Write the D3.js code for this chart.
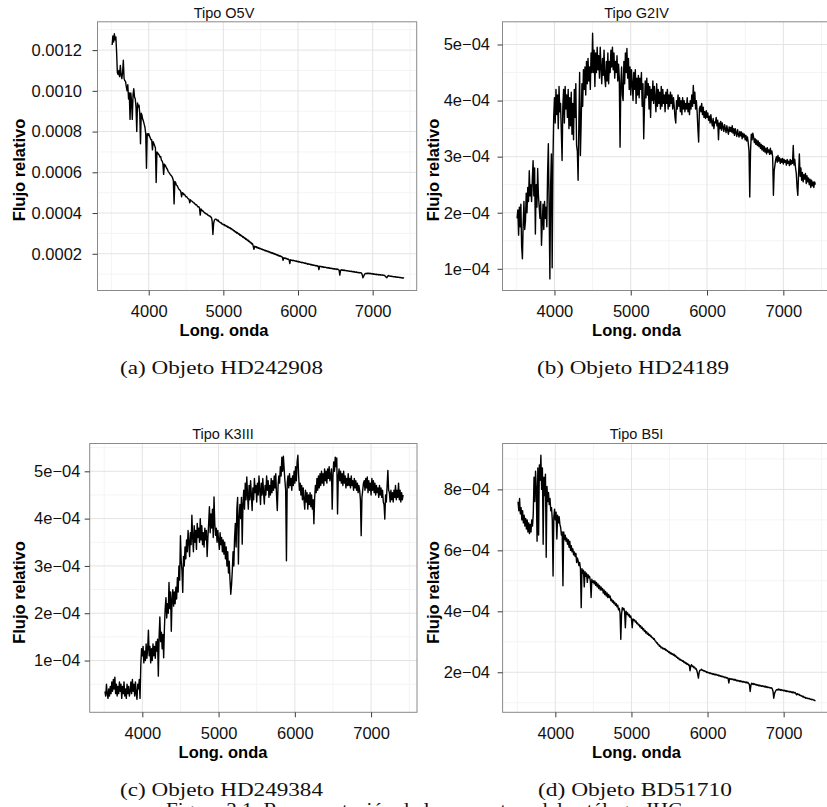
<!DOCTYPE html>
<html>
<head>
<meta charset="utf-8">
<script src="https://cdn.jsdelivr.net/npm/d3@7"></script>
<style>
  html, body { margin: 0; padding: 0; background: #ffffff; }
  svg { display: block; }
</style>
</head>
<body>
<svg id="fig" width="827" height="807"></svg>
<script>
// ---------------------------------------------------------------------------
// Spectra sampled on a regular wavelength grid (Angstrom)
// ---------------------------------------------------------------------------
const waveStart = 3510;
const waveStep = 10;
const waveEnd = 7420;

// Relative flux of each object, in units of 1e-4
const fluxO5V = [
  12.25, 12.7, 12.4, 12.8, 12.5, 12.65, 11.9, 10.9, 10.8, 11.0, 10.7, 11.25, 10.8, 10.6, 10.9, 11.5, 10.6, 10.5, 10.45, 10.2,   // 3510-3700
  10.0, 10.3, 9.6, 9.9, 8.6, 9.9, 9.5, 8.6, 9.8, 10.1, 9.7, 9.6, 9.2, 8.0, 9.4, 9.2, 9.3, 8.9, 7.4, 8.9,                       // 3710-3900
  8.8, 8.6, 8.5, 8.35, 8.2, 7.9, 6.2, 7.9, 7.8, 7.9, 7.8, 7.7, 7.6, 7.6, 7.1, 7.5, 7.4, 7.3, 7.2, 5.5,                         // 3910-4100
  7.0, 6.95, 6.9, 6.85, 6.75, 6.78, 6.6, 6.55, 6.45, 5.9, 6.4, 6.35, 6.28, 6.2, 6.15, 6.05, 6.0, 5.95, 5.88, 5.85,             // 4110-4300
  5.8, 5.72, 5.6, 4.45, 5.55, 5.5, 5.38, 5.35, 5.28, 5.2, 5.15, 5.12, 5.05, 4.8, 5.0, 4.98, 4.9, 4.92, 4.85, 4.8,              // 4310-4500
  4.8, 4.74, 4.7, 4.68, 4.5, 4.65, 4.6, 4.58, 4.55, 4.5, 4.5, 4.44, 4.4, 4.41, 4.35, 4.3, 4.31, 4.25, 3.9, 4.2,                // 4510-4700
  4.15, 4.1, 4.1, 4.04, 4.0, 4.0, 3.95, 3.96, 3.9, 3.9, 3.85, 3.86, 3.8, 3.8, 3.6, 2.95, 3.5, 3.65, 3.7, 3.7,                  // 4710-4900
  3.68, 3.62, 3.66, 3.58, 3.57, 3.52, 3.53, 3.46, 3.47, 3.42, 3.44, 3.38, 3.4, 3.34, 3.36, 3.3, 3.32, 3.26, 3.28, 3.22,        // 4910-5100
  3.24, 3.17, 3.18, 3.12, 3.13, 3.06, 3.08, 3.01, 3.04, 2.97, 2.99, 2.91, 2.94, 2.87, 2.88, 2.81, 2.84, 2.76, 2.78, 2.71,      // 5110-5300
  2.73, 2.65, 2.68, 2.6, 2.62, 2.54, 2.56, 2.48, 2.5, 2.38, 2.22, 2.37, 2.33, 2.35, 2.29, 2.32, 2.27, 2.29, 2.24, 2.26,        // 5310-5500
  2.22, 2.23, 2.19, 2.2, 2.16, 2.18, 2.13, 2.15, 2.11, 2.13, 2.08, 2.1, 2.05, 2.07, 2.02, 2.05, 2.0, 2.02, 1.97, 1.99,         // 5510-5700
  1.94, 1.96, 1.91, 1.93, 1.88, 1.9, 1.86, 1.87, 1.83, 1.68, 1.81, 1.78, 1.79, 1.75, 1.77, 1.73, 1.74, 1.71, 1.52, 1.71,       // 5710-5900
  1.68, 1.69, 1.66, 1.68, 1.65, 1.66, 1.63, 1.65, 1.61, 1.63, 1.59, 1.61, 1.58, 1.59, 1.56, 1.58, 1.55, 1.56, 1.53, 1.55,     // 5910-6100
  1.51, 1.53, 1.49, 1.51, 1.48, 1.49, 1.46, 1.48, 1.44, 1.46, 1.43, 1.44, 1.41, 1.43, 1.4, 1.41, 1.39, 1.22, 1.39, 1.37,      // 6110-6300
  1.38, 1.35, 1.37, 1.34, 1.35, 1.33, 1.34, 1.31, 1.33, 1.3, 1.32, 1.29, 1.3, 1.28, 1.29, 1.26, 1.28, 1.25, 1.27, 1.24,       // 6310-6500
  1.26, 1.23, 1.25, 1.22, 1.2, 0.95, 1.18, 1.22, 1.19, 1.21, 1.18, 1.2, 1.17, 1.18, 1.16, 1.17, 1.15, 1.16, 1.14, 1.15,       // 6510-6700
  1.13, 1.14, 1.12, 1.13, 1.1, 1.12, 1.09, 1.11, 1.08, 1.09, 1.07, 1.08, 1.06, 1.07, 1.05, 0.98, 0.82, 0.9, 0.98, 1.02,       // 6710-6900
  1.04, 1.02, 1.05, 1.03, 1.05, 1.02, 1.04, 1.01, 1.03, 1.0, 1.02, 0.99, 1.01, 0.98, 1.0, 0.97, 0.99, 0.96, 0.98, 0.96,       // 6910-7100
  0.97, 0.95, 0.96, 0.94, 0.95, 0.93, 0.9, 0.85, 0.82, 0.9, 0.93, 0.9, 0.91, 0.89, 0.9, 0.88, 0.89, 0.87, 0.88, 0.86,         // 7110-7300
  0.87, 0.85, 0.86, 0.84, 0.85, 0.83, 0.84, 0.82, 0.83, 0.81, 0.82, 0.8                                                        // 7310-7420
];

const fluxG2IV = [
  1.9, 2.05, 1.6, 2.1, 1.75, 2.15, 1.4, 1.18, 1.8, 2.2, 1.7, 1.85, 2.35, 2.0, 2.45, 2.2, 2.75, 2.3, 2.5, 2.2,                  // 3510-3700
  2.6, 2.93, 2.3, 2.8, 1.62, 2.5, 2.1, 2.79, 2.3, 2.1, 1.9, 2.2, 1.42, 1.8, 2.15, 1.7, 2.2, 1.9, 2.1, 1.75,                    // 3710-3900
  2.7, 3.23, 2.1, 0.82, 2.5, 3.05, 1.02, 2.9, 3.7, 4.05, 3.6, 4.2, 3.75, 4.1, 3.5, 4.25, 3.8, 3.95, 3.45, 2.93,                // 3910-4100
  3.9, 4.2, 3.6, 4.25, 3.85, 4.1, 3.7, 4.2, 3.5, 4.05, 3.55, 4.15, 3.4, 3.95, 3.3, 4.2, 3.7, 4.3, 3.2, 3.1,                    // 4110-4300
  2.58, 3.6, 4.5, 3.02, 3.6, 4.3, 3.9, 4.55, 4.2, 4.6, 4.1, 4.7, 4.3, 4.75, 4.35, 4.6, 4.2, 4.85, 4.5, 5.2,                    // 4310-4500
  4.5, 4.9, 4.25, 4.85, 4.5, 4.95, 4.55, 4.8, 4.4, 4.95, 4.6, 4.3, 4.75, 4.45, 4.9, 4.4, 4.25, 4.7, 4.35, 4.85,                // 4510-4700
  4.3, 4.7, 4.5, 4.9, 4.6, 4.95, 4.55, 4.85, 4.4, 4.7, 4.5, 4.8, 4.35, 4.65, 4.4, 3.17, 4.3, 4.6, 4.1, 4.0,                    // 4710-4900
  4.7, 4.3, 4.85, 4.5, 4.93, 4.4, 4.75, 4.2, 4.6, 4.1, 4.55, 4.3, 4.0, 4.5, 4.2, 4.55, 3.95, 4.4, 4.1, 4.45,                   // 4910-5100
  4.05, 4.4, 4.2, 4.5, 3.9, 4.3, 3.32, 3.9, 4.35, 4.05, 4.4, 4.1, 4.3, 3.85, 4.25, 3.7, 4.2, 4.0, 4.35, 3.95,                  // 5110-5300
  4.25, 4.05, 3.8, 4.3, 3.9, 4.2, 3.95, 4.15, 3.85, 4.25, 3.9, 4.2, 3.95, 4.1, 3.8, 4.15, 3.95, 4.2, 3.85, 4.1,                // 5310-5500
  3.9, 4.15, 3.95, 4.1, 3.85, 4.05, 3.9, 3.7, 3.6, 4.0, 3.85, 4.1, 3.9, 4.05, 3.8, 4.0, 3.75, 4.05, 3.85, 4.0,                 // 5510-5700
  3.8, 3.95, 3.85, 4.05, 3.8, 3.95, 3.75, 4.0, 3.85, 4.1, 3.9, 4.27, 3.95, 4.15, 3.85, 4.0, 3.8, 3.5, 3.26, 3.85,              // 5710-5900
  3.9, 3.8, 3.95, 3.75, 3.88, 3.7, 3.8, 3.68, 3.82, 3.7, 3.78, 3.65, 3.72, 3.6, 3.75, 3.62, 3.55, 3.68, 3.5, 3.62,             // 5910-6100
  3.6, 3.7, 3.55, 3.65, 3.3, 3.6, 3.5, 3.63, 3.47, 3.6, 3.52, 3.45, 3.57, 3.5, 3.43, 3.55, 3.47, 3.4, 3.53, 3.45,              // 6110-6300
  3.52, 3.44, 3.55, 3.42, 3.5, 3.38, 3.5, 3.43, 3.36, 3.48, 3.4, 3.35, 3.45, 3.37, 3.44, 3.32, 3.42, 3.35, 3.4, 3.3,          // 6310-6500
  3.38, 3.28, 3.35, 3.25, 3.1, 2.28, 3.1, 3.4, 3.3, 3.42, 3.35, 3.25, 3.32, 3.22, 3.3, 3.2, 3.28, 3.18, 3.25, 3.15,            // 6510-6700
  3.22, 3.12, 3.2, 3.1, 3.18, 3.08, 3.15, 3.05, 3.16, 3.08, 3.12, 3.04, 3.15, 3.05, 3.1, 3.0, 2.31, 2.75, 2.85, 2.95,          // 6710-6900
  3.0, 2.9, 3.02, 2.92, 2.98, 2.88, 2.96, 2.9, 2.97, 2.87, 2.95, 2.9, 2.93, 2.85, 2.95, 2.88, 2.92, 2.84, 2.95, 2.86,          // 6910-7100
  2.93, 2.88, 3.2, 2.85, 2.95, 2.8, 2.7, 2.45, 2.31, 2.7, 3.05, 2.65, 2.8, 2.58, 2.72, 2.55, 2.68, 2.6, 2.7, 2.52,             // 7110-7300
  2.66, 2.55, 2.62, 2.5, 2.6, 2.45, 2.58, 2.48, 2.55, 2.45, 2.55, 2.5                                                          // 7310-7420
];

const fluxK3III = [
  0.35, 0.25, 0.5, 0.3, 0.2, 0.4, 0.25, 0.45, 0.3, 0.55, 0.35, 0.6, 0.4, 0.65, 0.3, 0.5, 0.25, 0.45, 0.3, 0.55,                // 3510-3700
  0.35, 0.5, 0.2, 0.45, 0.3, 0.55, 0.25, 0.4, 0.2, 0.5, 0.3, 0.45, 0.25, 0.35, 0.55, 0.3, 0.6, 0.35, 0.5, 0.25,                // 3710-3900
  0.55, 0.3, 0.18, 0.5, 0.4, 0.6, 0.2, 0.9, 1.25, 1.1, 1.3, 0.95, 1.2, 1.0, 1.35, 1.05, 1.25, 1.64, 1.1, 1.3,                  // 3910-4100
  0.95, 1.25, 1.0, 1.35, 1.1, 1.3, 1.05, 1.4, 1.2, 1.45, 0.67, 1.5, 1.92, 1.4, 1.6, 1.25, 1.55, 1.06, 1.7, 2.1,                // 4110-4300
  2.33, 1.9, 2.2, 2.0, 2.65, 2.1, 2.45, 1.62, 2.3, 2.5, 2.15, 2.45, 2.2, 2.55, 2.3, 2.75, 2.45, 3.0, 2.7, 3.64,                // 4310-4500
  3.1, 2.9, 2.44, 3.2, 3.0, 3.4, 3.15, 3.55, 3.3, 3.75, 3.5, 3.2, 3.7, 3.45, 4.07, 3.6, 3.3, 3.85, 3.5, 3.75,                  // 4510-4700
  3.35, 3.9, 3.6, 3.8, 3.5, 4.0, 3.55, 3.85, 3.45, 3.7, 3.4, 3.8, 3.55, 3.75, 3.2, 3.6, 3.9, 4.25, 3.7, 4.1,                   // 4710-4900
  3.8, 4.2, 3.6, 4.46, 3.9, 3.65, 3.8, 3.5, 3.75, 3.55, 3.35, 3.7, 3.45, 3.6, 3.3, 3.55, 3.25, 3.5, 3.15, 3.4,                 // 4910-5100
  3.0, 3.3, 2.85, 3.1, 2.7, 2.4, 2.6, 2.9, 3.3, 3.0, 3.6, 3.9, 3.4, 4.2, 4.45, 3.04, 4.0, 4.3, 4.0, 4.45,                      // 5110-5300
  3.46, 4.3, 4.6, 4.2, 4.75, 4.4, 4.88, 4.5, 4.2, 4.7, 4.4, 4.8, 4.5, 4.17, 4.65, 4.4, 4.85, 4.55, 4.7, 4.35,                  // 5310-5500
  4.75, 4.5, 4.9, 4.6, 4.3, 4.75, 4.5, 4.85, 4.55, 4.31, 4.7, 4.5, 4.9, 4.6, 4.8, 4.45, 4.7, 4.5, 4.85, 4.55,                  // 5510-5700
  4.8, 4.6, 4.9, 4.65, 4.95, 4.5, 4.17, 4.7, 4.9, 4.75, 5.1, 4.9, 5.3, 5.0, 5.32, 5.05, 4.8, 4.6, 3.11, 4.75,                  // 5710-5900
  4.9, 4.65, 4.95, 4.7, 4.85, 4.6, 4.9, 4.7, 5.0, 4.75, 5.1, 4.8, 5.2, 5.34, 4.9, 4.6, 4.75, 4.5, 4.7, 4.4,                    // 5910-6100
  4.65, 4.4, 4.2, 4.6, 4.35, 4.55, 4.2, 4.5, 4.3, 4.55, 4.25, 4.5, 4.2, 4.4, 3.89, 4.45, 4.7, 4.55, 4.85, 4.6,                 // 6110-6300
  4.9, 4.65, 4.95, 4.7, 5.0, 4.75, 4.95, 4.7, 5.05, 4.8, 5.0, 4.75, 5.05, 4.85, 5.1, 4.8, 4.9, 5.05, 4.2, 4.9,                 // 6310-6500
  5.2, 5.0, 5.3, 5.1, 5.28, 4.1, 4.9, 5.05, 4.8, 5.0, 4.75, 4.95, 4.7, 5.0, 4.75, 4.9, 4.65, 4.85, 4.7, 4.95,                  // 6510-6700
  4.7, 4.85, 4.65, 4.9, 4.7, 4.8, 4.6, 4.85, 4.65, 4.8, 4.6, 4.75, 4.55, 4.7, 4.6, 4.4, 3.64, 4.45, 4.6, 4.75,                 // 6710-6900
  4.8, 4.6, 4.85, 4.65, 4.88, 4.55, 4.8, 4.6, 4.75, 4.5, 4.85, 4.6, 4.8, 4.55, 4.75, 4.5, 4.7, 4.55, 4.65, 4.45,               // 6910-7100
  4.7, 4.5, 4.65, 4.45, 4.6, 4.35, 4.3, 3.99, 4.5, 4.35, 4.7, 5.02, 4.6, 4.55, 4.35, 4.6, 4.4, 4.55, 4.35, 4.6,                // 7110-7300
  4.45, 4.7, 4.4, 4.6, 4.45, 4.75, 4.4, 4.6, 4.35, 4.55, 4.4, 4.5                                                              // 7310-7420
];

const fluxB5I = [
  7.6, 7.3, 7.7, 7.2, 7.4, 7.0, 7.3, 6.9, 7.15, 6.8, 7.05, 6.7, 7.0, 6.6, 6.9, 6.55, 6.85, 6.6, 7.0, 6.8,                      // 3510-3700
  7.2, 8.4, 7.6, 8.6, 8.0, 6.3, 8.7, 6.5, 8.8, 8.3, 9.12, 8.0, 8.7, 6.2, 8.4, 7.8, 8.5, 5.77, 8.1, 7.6,                        // 3710-3900
  7.9, 7.5, 7.7, 7.3, 7.4, 7.0, 5.16, 7.1, 7.35, 7.0, 7.25, 6.37, 7.15, 6.9, 7.1, 6.85, 6.75, 6.5, 6.6, 4.84,                  // 3910-4100
  6.6, 6.35, 6.5, 6.3, 6.4, 6.2, 6.35, 6.1, 6.3, 6.0, 6.15, 5.95, 6.05, 5.85, 5.95, 5.8, 5.9, 5.6, 5.75, 5.65,                 // 4110-4300
  5.5, 5.6, 5.4, 4.12, 5.4, 5.25, 5.35, 4.8, 5.3, 5.15, 5.25, 4.95, 5.2, 5.1, 5.15, 5.0, 4.45, 5.05, 4.95, 5.0,                // 4310-4500
  4.9, 5.0, 4.85, 4.95, 4.8, 4.9, 4.75, 4.85, 4.7, 4.8, 4.7, 4.75, 4.6, 4.7, 4.55, 4.65, 4.5, 4.6, 4.45, 4.55,                 // 4510-4700
  4.45, 4.5, 4.35, 4.4, 4.3, 4.35, 4.25, 4.3, 4.2, 4.25, 4.15, 4.2, 4.05, 4.1, 3.95, 3.08, 3.9, 4.12, 4.05, 4.1,               // 4710-4900
  4.0, 3.46, 4.0, 3.9, 3.95, 3.85, 3.9, 3.8, 3.85, 3.75, 3.46, 3.75, 3.7, 3.72, 3.65, 3.68, 3.6, 3.62, 3.55, 3.57,             // 4910-5100
  3.49, 3.53, 3.44, 3.48, 3.39, 3.43, 3.34, 3.37, 3.29, 3.33, 3.25, 3.28, 3.21, 3.24, 3.17, 3.19, 3.13, 3.14, 3.08, 3.1,       // 5110-5300
  3.03, 3.02, 2.96, 2.97, 2.9, 2.91, 2.85, 2.86, 2.8, 2.82, 2.77, 2.79, 2.75, 2.78, 2.72, 2.74, 2.69, 2.7, 2.65, 2.67,         // 5310-5500
  2.61, 2.64, 2.59, 2.61, 2.56, 2.59, 2.53, 2.55, 2.49, 2.5, 2.45, 2.47, 2.41, 2.43, 2.39, 2.4, 2.36, 2.38, 2.32, 2.34,        // 5510-5700
  2.29, 2.31, 2.26, 2.28, 2.23, 2.24, 2.05, 2.21, 2.25, 2.19, 2.2, 2.15, 2.17, 2.11, 2.12, 2.05, 1.95, 1.81, 2.0, 2.07,        // 5710-5900
  2.07, 2.1, 2.06, 2.07, 2.04, 2.05, 2.02, 2.03, 1.99, 2.01, 1.98, 1.99, 1.96, 1.98, 1.95, 1.96, 1.93, 1.95, 1.92, 1.94,       // 5910-6100
  1.91, 1.93, 1.9, 1.91, 1.88, 1.9, 1.87, 1.88, 1.85, 1.87, 1.84, 1.85, 1.82, 1.84, 1.81, 1.82, 1.8, 1.65, 1.8, 1.77,         // 6110-6300
  1.79, 1.76, 1.78, 1.75, 1.77, 1.74, 1.76, 1.72, 1.74, 1.71, 1.73, 1.7, 1.72, 1.69, 1.71, 1.68, 1.7, 1.67, 1.69, 1.66,       // 6310-6500
  1.68, 1.65, 1.67, 1.63, 1.6, 1.37, 1.58, 1.64, 1.61, 1.63, 1.6, 1.62, 1.59, 1.6, 1.57, 1.59, 1.56, 1.58, 1.55, 1.57,        // 6510-6700
  1.54, 1.56, 1.53, 1.55, 1.52, 1.54, 1.51, 1.53, 1.5, 1.51, 1.49, 1.5, 1.48, 1.49, 1.46, 1.38, 1.15, 1.3, 1.36, 1.41,        // 6710-6900
  1.43, 1.42, 1.45, 1.42, 1.44, 1.41, 1.43, 1.4, 1.42, 1.39, 1.41, 1.38, 1.4, 1.37, 1.39, 1.36, 1.38, 1.35, 1.37, 1.34,       // 6910-7100
  1.36, 1.33, 1.35, 1.32, 1.34, 1.3, 1.26, 1.3, 1.27, 1.28, 1.24, 1.25, 1.22, 1.23, 1.19, 1.21, 1.17, 1.18, 1.15, 1.16,       // 7110-7300
  1.14, 1.15, 1.13, 1.14, 1.11, 1.12, 1.1, 1.11, 1.09, 1.09, 1.07, 1.07                                                        // 7310-7420
];

// Text content
const panelTitles = ["Tipo O5V", "Tipo G2IV", "Tipo K3III", "Tipo B5I"];
const captions = ["(a) Objeto HD242908", "(b) Objeto HD24189", "(c) Objeto HD249384", "(d) Objeto BD51710"];
const xAxisTitle = "Long. onda";
const yAxisTitle = "Flujo relativo";
const figureCaption = "Figura 3.1: Representación de los espectros del catálogo JHC";

// Axis ticks (x in Angstrom, y in units of 1e-4)
const xTicks = [4000, 5000, 6000, 7000];
const xMinorTicks = [3500, 4500, 5500, 6500, 7500];
const yTicksO5V = [2, 4, 6, 8, 10, 12];
const yLabelsO5V = ["0.0002", "0.0004", "0.0006", "0.0008", "0.0010", "0.0012"];
const yMinorO5V = [1, 3, 5, 7, 9, 11, 13];
const yTicksG2IV = [1, 2, 3, 4, 5];
const yLabelsG2IV = ["1e\u221204", "2e\u221204", "3e\u221204", "4e\u221204", "5e\u221204"];
const yMinorG2IV = [1.5, 2.5, 3.5, 4.5];
const yTicksK3III = [1, 2, 3, 4, 5];
const yLabelsK3III = ["1e\u221204", "2e\u221204", "3e\u221204", "4e\u221204", "5e\u221204"];
const yMinorK3III = [0.5, 1.5, 2.5, 3.5, 4.5, 5.5];
const yTicksB5I = [2, 4, 6, 8];
const yLabelsB5I = ["2e\u221204", "4e\u221204", "6e\u221204", "8e\u221204"];
const yMinorB5I = [1, 3, 5, 7, 9];

// ---------------------------------------------------------------------------
// Layout of the four panels
// ---------------------------------------------------------------------------
const panels = [
  { id: "a", flux: fluxO5V, title: panelTitles[0], caption: captions[0],
    yTicks: yTicksO5V, yLabels: yLabelsO5V, yMinor: yMinorO5V,
    box: { x0: 97.5, x1: 416.7, y0: 21.8, y1: 290.5 },
    xDomain: [3314, 7590], yDomain: [0.197, 13.39],
    labelPad: 10.5, centerX: 224, yTitleX: 25, yTitleY: 170,
    captionX: 221.5, captionY: 373.5, captionW: 203 },
  { id: "b", flux: fluxG2IV, title: panelTitles[1], caption: captions[1],
    yTicks: yTicksG2IV, yLabels: yLabelsG2IV, yMinor: yMinorG2IV,
    box: { x0: 502.5, x1: 828.8, y0: 21.8, y1: 290.5 },
    xDomain: [3319, 7596], yDomain: [0.613, 5.405],
    labelPad: 7.5, centerX: 636.5, yTitleX: 438.5, yTitleY: 170,
    captionX: 633, captionY: 373.5, captionW: 192 },
  { id: "c", flux: fluxK3III, title: panelTitles[2], caption: captions[2],
    yTicks: yTicksK3III, yLabels: yLabelsK3III, yMinor: yMinorK3III,
    box: { x0: 89.7, x1: 417, y0: 443.5, y1: 712.3 },
    xDomain: [3310, 7602], yDomain: [-0.094, 5.588],
    labelPad: 4.3, centerX: 223, yTitleX: 25, yTitleY: 592.5,
    captionX: 221.5, captionY: 795.5, captionW: 203 },
  { id: "d", flux: fluxB5I, title: panelTitles[3], caption: captions[3],
    yTicks: yTicksB5I, yLabels: yLabelsB5I, yMinor: yMinorB5I,
    box: { x0: 502.6, x1: 829, y0: 443.5, y1: 712.3 },
    xDomain: [3307, 7596], yDomain: [0.687, 9.505],
    labelPad: 7.6, centerX: 636.5, yTitleX: 438.5, yTitleY: 592.5,
    captionX: 635, captionY: 795.5, captionW: 194 }
];

const SANS = "'Liberation Sans', Arial, Helvetica, sans-serif";
const SERIF = "'Liberation Serif', 'Times New Roman', serif";
const FLUX_UNIT = 1e-4;

const wavelengths = d3.range(waveStart, waveEnd + waveStep / 2, waveStep);
const svg = d3.select("#fig");

panels.forEach(p => {
  const g = svg.append("g").attr("class", "panel panel-" + p.id);
  const b = p.box;

  const x = d3.scaleLinear().domain(p.xDomain).range([b.x0, b.x1]);
  const y = d3.scaleLinear().domain(p.yDomain.map(v => v * FLUX_UNIT)).range([b.y1, b.y0]);

  // panel background
  g.append("rect")
    .attr("x", b.x0).attr("y", b.y0)
    .attr("width", b.x1 - b.x0).attr("height", b.y1 - b.y0)
    .attr("fill", "#ffffff");

  // clip region for grid and spectrum
  g.append("clipPath").attr("id", "clip-" + p.id)
    .append("rect")
    .attr("x", b.x0).attr("y", b.y0)
    .attr("width", b.x1 - b.x0).attr("height", b.y1 - b.y0);

  const inner = g.append("g").attr("clip-path", "url(#clip-" + p.id + ")");

  // minor grid
  inner.append("g").selectAll("line").data(xMinorTicks).join("line")
    .attr("x1", d => x(d)).attr("x2", d => x(d))
    .attr("y1", b.y0).attr("y2", b.y1)
    .attr("stroke", "#f4f4f4").attr("stroke-width", 1);
  inner.append("g").selectAll("line").data(p.yMinor).join("line")
    .attr("x1", b.x0).attr("x2", b.x1)
    .attr("y1", d => y(d * FLUX_UNIT)).attr("y2", d => y(d * FLUX_UNIT))
    .attr("stroke", "#f4f4f4").attr("stroke-width", 1);

  // major grid
  inner.append("g").selectAll("line").data(xTicks).join("line")
    .attr("x1", d => x(d)).attr("x2", d => x(d))
    .attr("y1", b.y0).attr("y2", b.y1)
    .attr("stroke", "#e3e3e3").attr("stroke-width", 1);
  inner.append("g").selectAll("line").data(p.yTicks).join("line")
    .attr("x1", b.x0).attr("x2", b.x1)
    .attr("y1", d => y(d * FLUX_UNIT)).attr("y2", d => y(d * FLUX_UNIT))
    .attr("stroke", "#e3e3e3").attr("stroke-width", 1);

  // spectrum
  const points = wavelengths.map((w, i) => [w, p.flux[i] * FLUX_UNIT]).filter(d => d[1] === d[1]);
  const line = d3.line().x(d => x(d[0])).y(d => y(d[1]));
  inner.append("path")
    .datum(points)
    .attr("d", line)
    .attr("fill", "none")
    .attr("stroke", "#000000")
    .attr("stroke-width", 1.4)
    .attr("stroke-linejoin", "round");

  // panel border
  g.append("rect")
    .attr("x", b.x0).attr("y", b.y0)
    .attr("width", b.x1 - b.x0).attr("height", b.y1 - b.y0)
    .attr("fill", "none").attr("stroke", "#8a8a8a").attr("stroke-width", 1);

  // x axis
  const xAxis = g.append("g")
    .attr("transform", "translate(0," + b.y1 + ")")
    .call(d3.axisBottom(x).tickValues(xTicks).tickSize(5).tickPadding(9.5).tickFormat(d3.format("d")));
  // y axis
  const yAxis = g.append("g")
    .attr("transform", "translate(" + b.x0 + ",0)")
    .call(d3.axisLeft(y).tickValues(p.yTicks.map(v => v * FLUX_UNIT)).tickSize(5).tickPadding(p.labelPad)
      .tickFormat((d, i) => p.yLabels[i]));

  [xAxis, yAxis].forEach(ax => {
    ax.select(".domain").remove();
    ax.selectAll(".tick line").attr("stroke", "#3a3a3a").attr("stroke-width", 1);
    ax.selectAll(".tick text")
      .attr("fill", "#111111")
      .style("font-family", SANS)
      .style("font-size", "16.5px");
  });

  // panel title
  g.append("text")
    .attr("x", p.centerX).attr("y", b.y0 - 4.2)
    .attr("text-anchor", "middle")
    .style("font-family", SANS).style("font-size", "14.5px")
    .attr("fill", "#111111")
    .text(p.title);

  // axis titles
  g.append("text")
    .attr("x", p.centerX).attr("y", b.y1 + 45.5)
    .attr("text-anchor", "middle")
    .style("font-family", SANS).style("font-size", "16.5px").style("font-weight", "bold")
    .attr("fill", "#000000")
    .text(xAxisTitle);
  g.append("text")
    .attr("transform", "translate(" + p.yTitleX + "," + p.yTitleY + ") rotate(-90)")
    .attr("text-anchor", "middle")
    .style("font-family", SANS).style("font-size", "16.5px").style("font-weight", "bold")
    .attr("fill", "#000000")
    .text(yAxisTitle);

  // sub-figure caption
  g.append("text")
    .attr("x", p.captionX - p.captionW / 2).attr("y", p.captionY)
    .attr("textLength", p.captionW).attr("lengthAdjust", "spacingAndGlyphs")
    .style("font-family", SERIF).style("font-size", "19px")
    .attr("fill", "#111111")
    .text(p.caption);
});

// figure caption, running off the bottom edge of the page
svg.append("text")
  .attr("x", 166).attr("y", 815.5)
  .attr("textLength", 516).attr("lengthAdjust", "spacingAndGlyphs")
  .style("font-family", SERIF).style("font-size", "19px")
  .attr("fill", "#111111")
  .text(figureCaption);
</script>
</body>
</html>
